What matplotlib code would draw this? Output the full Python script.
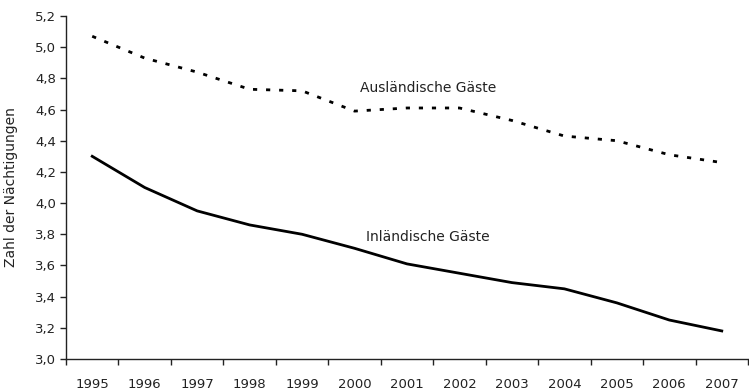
import matplotlib
matplotlib.use("Agg")
import matplotlib.pyplot as plt
import numpy as np

years = ["1995", "1996", "1997", "1998", "1999", "2000", "2001",
         "2002", "2003", "2004", "2005", "2006", "2007"]
inland = [4.30, 4.10, 3.95, 3.86, 3.80, 3.71, 3.61, 3.55, 3.49, 3.45, 3.36, 3.25, 3.18]
ausland = [5.07, 4.93, 4.84, 4.73, 4.72, 4.59, 4.61, 4.61, 4.53, 4.43, 4.40, 4.31, 4.26]
yticks = [3.0, 3.2, 3.4, 3.6, 3.8, 4.0, 4.2, 4.4, 4.6, 4.8, 5.0, 5.2]

plt.rcParams['font.family'] = ['DejaVu Sans']
fig = plt.figure(figsize=(7.49, 3.90), dpi=100)
ax = fig.add_axes([66/749, 1 - 359/390, (748 - 66)/749, (359 - 16)/390])

x = np.arange(len(years))
ax.plot(x, inland, color='black', lw=2.0, solid_joinstyle='round')
ax.plot(x, ausland, color='black', lw=2.0, linestyle=(0, (1.5, 3.2)))

ax.set_xlim(-0.5, len(years) - 0.5)
ax.set_ylim(3.0, 5.2)
ax.set_yticks(yticks)
ax.set_yticklabels([f"{v:.1f}".replace('.', ',') for v in yticks])
ax.set_xticks(x)
ax.set_xticklabels(years)
ax.set_xticks(np.arange(-0.5, len(years), 1.0), minor=True)
ax.tick_params(axis='x', which='major', length=0, pad=14, labelsize=9.5, colors='#222222')
ax.tick_params(axis='x', which='minor', length=4, width=1, color='#222222')
ax.tick_params(axis='y', length=4, width=1, labelsize=9.5, colors='#222222', pad=3)

for s in ['top', 'right']:
    ax.spines[s].set_visible(False)
for s in ['left', 'bottom']:
    ax.spines[s].set_color('#222222')
    ax.spines[s].set_linewidth(1.0)

ax.set_ylabel("Zahl der Nächtigungen", fontsize=10, color='#222222', labelpad=12)
ax.text(6.4, 4.74, "Ausländische Gäste", fontsize=10, color='#222222', ha='center', va='center')
ax.text(6.4, 3.78, "Inländische Gäste", fontsize=10, color='#222222', ha='center', va='center')

fig.savefig("out.png", dpi=100)
